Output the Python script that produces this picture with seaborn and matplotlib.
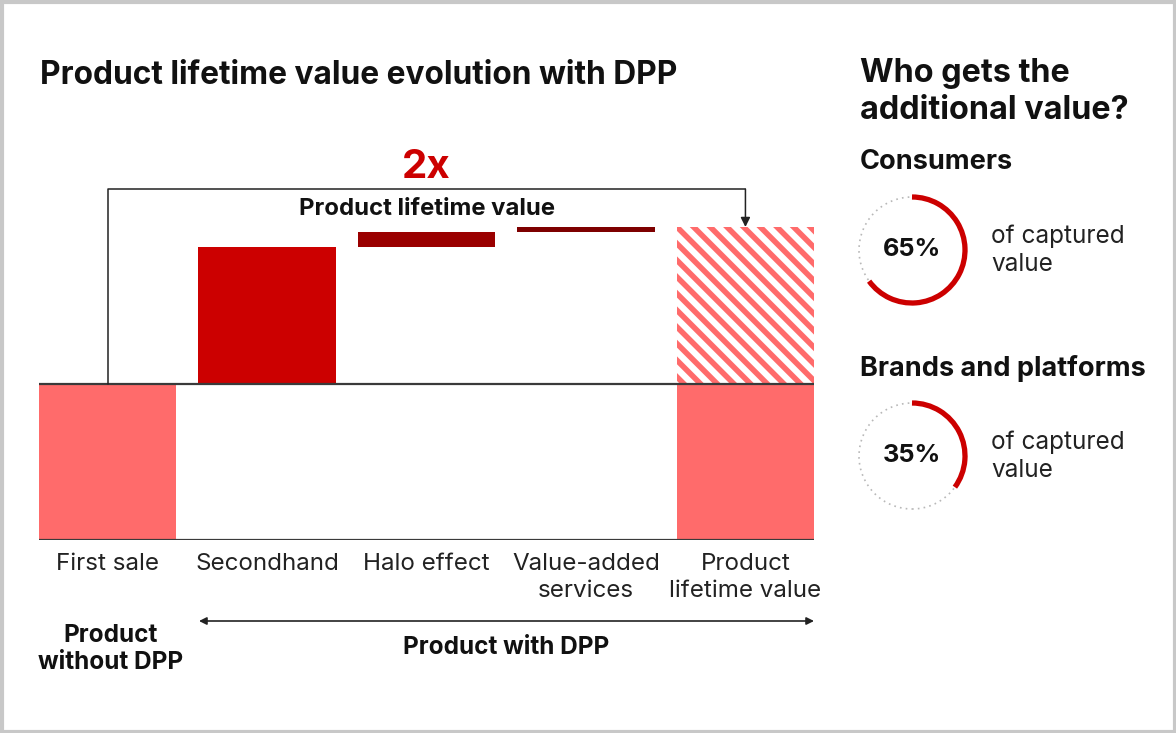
import numpy as np
import matplotlib
matplotlib.use("Agg")
import matplotlib.pyplot as plt
from matplotlib.patches import Arc, Circle, Rectangle
import seaborn as sns

# --- Data ---
CATEGORIES = ["First sale", "Secondhand", "Halo effect", "Value-added\nservices", "Product\nlifetime value"]
FIRST_SALE = 100
UPLIFTS = [87, 10, 3]            # secondhand, halo effect, value-added services
BAR_COLORS = ["#FF6B6B", "#CC0000", "#9A0000", "#7E0000", "#FF6B6B"]
SHARE_LABELS = ["Consumers", "Brands and platforms"]
SHARES = [0.65, 0.35]

W, H = 1176, 733
RED = "#CC0000"
INK = "#111111"

sns.set_style("white")
plt.rcParams["font.family"] = ["Inter", "DejaVu Sans"]
plt.rcParams["hatch.linewidth"] = 4.0

total = FIRST_SALE + sum(UPLIFTS)
heights = [FIRST_SALE] + UPLIFTS + [FIRST_SALE]
bottoms = [0] + list(FIRST_SALE + np.cumsum([0] + UPLIFTS[:-1])) + [0]

fig = plt.figure(figsize=(W / 100, H / 100), dpi=100)

# --- main waterfall ---
ax = fig.add_axes([39 / W, (H - 540) / H, 775 / W, 390 / H])
sns.barplot(x=CATEGORIES, y=heights, hue=CATEGORIES, palette=BAR_COLORS,
            saturation=1, width=0.86, legend=False, ax=ax)
for patch, b in zip(ax.patches, bottoms):
    patch.set_y(b)
    patch.set_linewidth(0)

# hatched uplift part of the lifetime value bar
ax.bar(len(CATEGORIES) - 1, total - FIRST_SALE, bottom=FIRST_SALE, width=0.86,
       facecolor="white", edgecolor=BAR_COLORS[-1], hatch="\\\\", linewidth=0)

ax.axhline(FIRST_SALE, color="#3a3a3a", lw=1.6, zorder=3)
ax.axhline(0, color="#3a3a3a", lw=1.6, zorder=3)

px = 313 / 200  # pixels per value unit
bracket_y = total + 38 / px
ax.plot([0, 0, len(CATEGORIES) - 1], [FIRST_SALE, bracket_y, bracket_y],
        color="#222222", lw=1.1, zorder=4)
ax.annotate("", xy=(len(CATEGORIES) - 1, total), xytext=(len(CATEGORIES) - 1, bracket_y),
            arrowprops=dict(arrowstyle="-|>", color="#222222", lw=1.1,
                            mutation_scale=14, shrinkA=0, shrinkB=0))
ax.text(2, bracket_y + 21 / px, f"{total / FIRST_SALE:.0f}x", color=RED,
        fontsize=29, fontweight="bold", ha="center", va="center")
ax.text(2, bracket_y - 20 / px, "Product lifetime value", color=INK,
        fontsize=17.2, fontweight="bold", ha="center", va="center")

ax.set_xlim(-0.43, len(CATEGORIES) - 0.57)
ax.set_ylim(0, 390 / px)
ax.set_yticks([])
ax.set_ylabel("")
ax.tick_params(axis="x", length=0, pad=9.5, labelsize=17.4, labelcolor="#222222")
for lbl in ax.get_xticklabels():
    lbl.set_linespacing(1.3)
sns.despine(ax=ax, left=True, bottom=True)

# --- overlay in pixel coordinates ---
ov = fig.add_axes([0, 0, 1, 1], zorder=5)
ov.set_xlim(0, W)
ov.set_ylim(0, H)
ov.axis("off")
ov.patch.set_visible(False)


def Y(y):
    return H - y


ov.add_patch(Rectangle((1.5, 1.5), W - 3, H - 3, fill=False, ec="#c8c8c8", lw=3))

ov.text(40, Y(76), "Product lifetime value evolution with DPP", fontsize=22.8,
        fontweight="bold", color=INK, ha="left", va="center")

ov.annotate("", xy=(814, Y(621)), xytext=(199, Y(621)),
            arrowprops=dict(arrowstyle="<|-|>", color="#222222", lw=1.2,
                            mutation_scale=11, shrinkA=0, shrinkB=0))
ov.text(506, Y(648), "Product with DPP", fontsize=17.5, fontweight="bold",
        color=INK, ha="center", va="center")
ov.text(111, Y(649), "Product\nwithout DPP", fontsize=17.5, fontweight="bold",
        color=INK, ha="center", va="center", linespacing=1.25)

# right panel
ov.text(860, Y(92), "Who gets the\nadditional value?", fontsize=23.3,
        fontweight="bold", color=INK, ha="left", va="center", linespacing=1.25)

for i, (label, share) in enumerate(zip(SHARE_LABELS, SHARES)):
    cy = 250 + i * 206
    ov.text(860, Y(cy - 88), label, fontsize=19.5, fontweight="bold",
            color=INK, ha="left", va="center")
    ov.add_patch(Circle((912, Y(cy)), 53, fill=False, ec="#b8b8b8",
                        lw=1.2, ls=(0, (1, 2.5))))
    ov.add_patch(Arc((912, Y(cy)), 106, 106, theta1=90 - 360 * share, theta2=90,
                     color=RED, lw=3.8))
    ov.text(912, Y(cy), f"{share:.0%}", fontsize=18.3, fontweight="bold",
            color=INK, ha="center", va="center")
    ov.text(991, Y(cy), "of captured\nvalue", fontsize=17.5, color="#222222",
            ha="left", va="center", linespacing=1.3)

fig.savefig("out.png", dpi=100, facecolor="white")
